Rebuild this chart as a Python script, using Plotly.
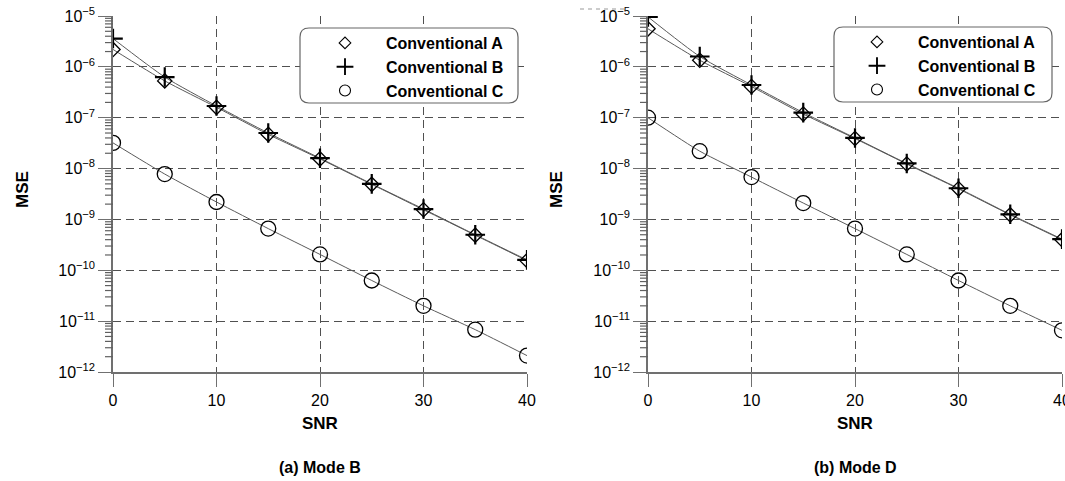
import math
import plotly.graph_objects as go

snr = [0, 5, 10, 15, 20, 25, 30, 35, 40]
series_names = ["Conventional A", "Conventional B", "Conventional C"]

mode_b_A = [2.2e-6, 5.3e-7, 1.6e-7, 4.7e-8, 1.55e-8, 4.9e-9, 1.55e-9, 4.9e-10, 1.55e-10]
mode_b_B = [3.6e-6, 6.3e-7, 1.7e-7, 5.0e-8, 1.6e-8, 5.0e-9, 1.6e-9, 5.0e-10, 1.6e-10]
mode_b_C = [3.2e-8, 7.8e-9, 2.2e-9, 6.6e-10, 2.05e-10, 6.3e-11, 2.0e-11, 6.8e-12, 2.1e-12]

mode_d_A = [5.6e-6, 1.35e-6, 4.1e-7, 1.18e-7, 3.9e-8, 1.23e-8, 4.0e-9, 1.23e-9, 4.0e-10]
mode_d_B = [9.6e-6, 1.6e-6, 4.4e-7, 1.26e-7, 4.0e-8, 1.26e-8, 4.1e-9, 1.26e-9, 4.1e-10]
mode_d_C = [1.0e-7, 2.2e-8, 6.8e-9, 2.1e-9, 6.6e-10, 2.05e-10, 6.3e-11, 2.0e-11, 6.6e-12]

panel_titles = ["(a) Mode B", "(b) Mode D"]
x_ticks = [0, 10, 20, 30, 40]
y_major_ticks = [10.0 ** e for e in range(-12, -4)]
y_major_labels = [f"10<sup>\u2212{-e}</sup>" for e in range(-12, -4)]
y_minor_ticks = [m * 10.0 ** e for e in range(-12, -5) for m in range(2, 10)]
Y_LOG_RANGE = [-12, -5]

W, H = 1065, 481
FONT = "Liberation Sans, Arial, sans-serif"
GRID = "#505050"
AXIS = "#707070"
LINE = "#5a5a5a"

symbols = ["diamond-open", "cross-thin-open", "circle-open"]
plot_sizes = [11, 14, 15]
legend_sizes = [9, 12, 11]
stroke = [1.3, 2.2, 1.3]

fig = go.Figure()

panels = [
    ("x", "y", "legend", [mode_b_A, mode_b_B, mode_b_C]),
    ("x2", "y2", "legend2", [mode_d_A, mode_d_B, mode_d_C]),
]
for xa, ya, lg, data in panels:
    for name, vals in zip(series_names, data):
        fig.add_trace(go.Scatter(
            x=snr, y=vals, name=name, mode="lines",
            line=dict(color=LINE, width=1, shape="spline", smoothing=0.6),
            xaxis=xa, yaxis=ya, showlegend=False, hoverinfo="skip",
        ))
    for name, vals, sym, sz, sw in zip(series_names, data, symbols, plot_sizes, stroke):
        fig.add_trace(go.Scatter(
            x=snr, y=vals, name=name, mode="markers",
            marker=dict(symbol=sym, size=sz, color="black", line=dict(width=sw, color="black")),
            xaxis=xa, yaxis=ya, showlegend=False,
        ))
    # legend keys (no data points)
    for name, sym, sz, sw in zip(series_names, symbols, legend_sizes, stroke):
        fig.add_trace(go.Scatter(
            x=[None], y=[None], name=name, mode="markers",
            marker=dict(symbol=sym, size=sz, color="black", line=dict(width=sw * 0.85, color="black")),
            xaxis=xa, yaxis=ya, legend=lg, showlegend=True,
        ))

def px_x(p):
    return p / W

def px_y(p):
    return 1 - p / H

axis_px = [(113, 527), (648, 1062)]
x_domains = [[px_x(a), px_x(b)] for a, b in axis_px]
y_domain = [px_y(372), px_y(16)]

axis_common_x = dict(
    range=[0, 40], tickmode="array", tickvals=x_ticks, ticks="outside", ticklen=13, tickcolor=AXIS,
    tickwidth=1.3, showline=True, linecolor=AXIS, linewidth=1.5, automargin=False,
    showgrid=True, gridcolor=GRID, griddash="8px,5px", gridwidth=1, ticklabeloverflow="allow",
    zeroline=False, tickfont=dict(family=FONT, size=16, color="black"),
)
axis_common_y = dict(
    type="log", range=Y_LOG_RANGE, tickmode="array", tickvals=y_major_ticks, ticktext=y_major_labels,
    ticks="outside", ticklen=13, tickcolor=AXIS, tickwidth=1.3, automargin=False,
    showline=True, linecolor=AXIS, linewidth=1.5, ticklabeloverflow="allow",
    showgrid=True, gridcolor=GRID, griddash="8px,5px", gridwidth=1,
    zeroline=False, tickfont=dict(family=FONT, size=16, color="black"),
)

fig.update_layout(
    xaxis=dict(domain=x_domains[0], anchor="y", **axis_common_x),
    yaxis=dict(domain=y_domain, anchor="x", **axis_common_y),
    xaxis2=dict(domain=x_domains[1], anchor="y2", **axis_common_x),
    yaxis2=dict(domain=y_domain, anchor="x2", **axis_common_y),
)

legend_style = dict(
    font=dict(family=FONT, size=16, color="black", weight="bold"),
    bgcolor="rgba(0,0,0,0)", borderwidth=0, itemwidth=72, itemsizing="trace",
    xanchor="left", yanchor="top", tracegroupgap=0,
)

fig.update_layout(
    legend=dict(x=px_x(304), y=px_y(26), **legend_style),
    legend2=dict(x=px_x(836), y=px_y(25), **legend_style),
)

def rounded_rect(x0, y0, x1, y1, r):
    X = lambda v: f"{px_x(v):.5f}"
    Y = lambda v: f"{px_y(v):.5f}"
    return (f"M {X(x0+r)},{Y(y0)} L {X(x1-r)},{Y(y0)} Q {X(x1)},{Y(y0)} {X(x1)},{Y(y0+r)} "
            f"L {X(x1)},{Y(y1-r)} Q {X(x1)},{Y(y1)} {X(x1-r)},{Y(y1)} L {X(x0+r)},{Y(y1)} "
            f"Q {X(x0)},{Y(y1)} {X(x0)},{Y(y1-r)} L {X(x0)},{Y(y0+r)} Q {X(x0)},{Y(y0)} {X(x0+r)},{Y(y0)} Z")

shapes = []
for (lx0, ly0, lx1, ly1) in [(300, 28, 518, 103), (834, 27, 1052, 102)]:
    shapes.append(dict(
        type="path", xref="paper", yref="paper",
        path=rounded_rect(lx0, ly0, lx1, ly1, 9),
        line=dict(color="#666666", width=1.2), fillcolor="white", layer="above",
    ))

# minor log ticks just outside each y axis (log position within the axis domain)
def log_to_paper(v):
    f = (math.log10(v) - Y_LOG_RANGE[0]) / (Y_LOG_RANGE[1] - Y_LOG_RANGE[0])
    return y_domain[0] + f * (y_domain[1] - y_domain[0])

for ax_left, _ in axis_px:
    for v in y_minor_ticks:
        yp = log_to_paper(v)
        shapes.append(dict(
            type="line", xref="paper", yref="paper",
            x0=px_x(ax_left - 8), x1=px_x(ax_left), y0=yp, y1=yp,
            line=dict(color="#606060", width=1.2), layer="above",
        ))

# faint dashed remnant above the right panel in the source image
shapes.append(dict(type="line", xref="paper", yref="paper",
                   x0=px_x(580), x1=px_x(624), y0=px_y(9), y1=px_y(9),
                   line=dict(color="#999999", width=1, dash="4px,4px")))

annotations = []
for i, (dx, title) in enumerate(zip(x_domains, panel_titles)):
    cx = (dx[0] + dx[1]) / 2
    annotations.append(dict(text="SNR", x=cx, y=px_y(423), xref="paper", yref="paper",
                            showarrow=False, font=dict(family=FONT, size=17, color="black", weight="bold"),
                            xanchor="center", yanchor="middle"))
    annotations.append(dict(text=title, x=cx, y=px_y(467), xref="paper", yref="paper",
                            showarrow=False, font=dict(family=FONT, size=16, color="black", weight="bold"),
                            xanchor="center", yanchor="middle"))
    annotations.append(dict(text="MSE", x=px_x([22, 556][i]), y=px_y(190), xref="paper", yref="paper",
                            showarrow=False, textangle=-90,
                            font=dict(family=FONT, size=17, color="black", weight="bold"),
                            xanchor="center", yanchor="middle"))

fig.update_layout(
    width=W, height=H, margin=dict(l=0, r=0, t=0, b=0, autoexpand=False),
    paper_bgcolor="white", plot_bgcolor="white",
    shapes=shapes, annotations=annotations,
    font=dict(family=FONT, color="black"),
)

fig.write_html(
    "out.html",
    config={"displayModeBar": False},
    post_script="document.body.style.margin='0';document.body.style.overflow='hidden';",
)
